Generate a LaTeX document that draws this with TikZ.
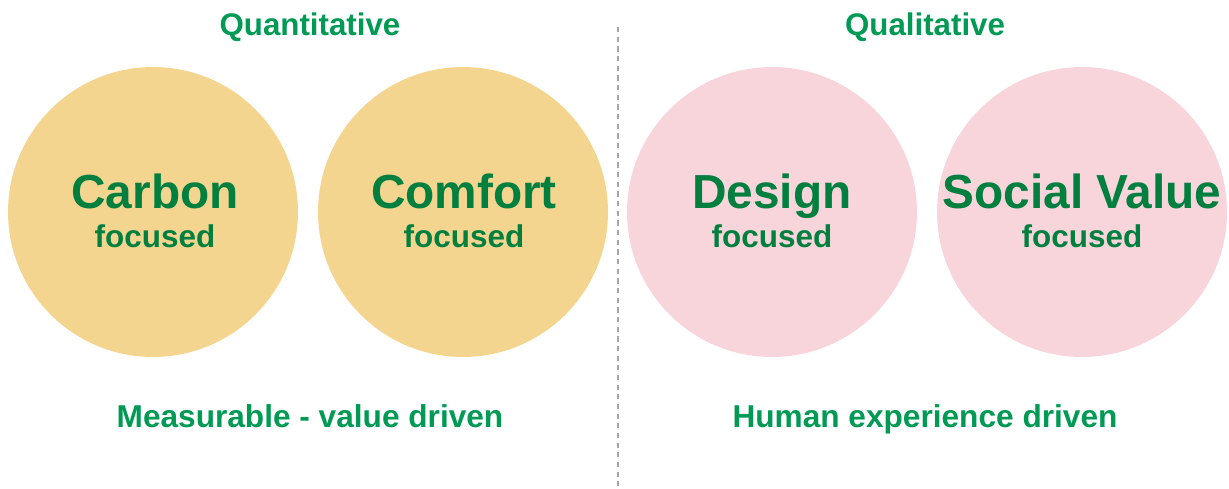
\documentclass[tikz,border=0pt]{standalone}
\usepackage{fontspec}
\setmainfont{Liberation Sans}
\usepackage{tikz}

\definecolor{headgreen}{HTML}{009A55}
\definecolor{wordgreen}{HTML}{007F3F}
\definecolor{sand}{HTML}{F3D58F}
\definecolor{blush}{HTML}{F7D5DB}

\begin{document}
\begin{tikzpicture}[x=0.02cm, y=0.02cm]
        \tikzset{
            disc/.style={circle, minimum size=5.8cm, inner sep=0pt, draw=none},
            heading/.style={anchor=base, text=headgreen, font=\fontsize{17.8}{21}\selectfont\bfseries},
            footing/.style={anchor=base, text=headgreen, font=\fontsize{18}{21}\selectfont\bfseries},
            bigword/.style={anchor=base, text=wordgreen, font=\fontsize{27.2}{32}\selectfont\bfseries},
            smallword/.style={anchor=base, text=wordgreen, font=\fontsize{17.9}{21}\selectfont\bfseries}
        }
        \useasboundingbox (0,0) rectangle (1229,488);

        % Divider
        \coordinate (divtop) at (618,461);
        \coordinate (divbot) at (618,0);
        \draw[gray!70, line width=0.8pt, dash pattern=on 3pt off 2.5pt] (divtop) -- (divbot);

        % Left half - quantitative
        \node[heading] (quant) at (310,453) {Quantitative};
        \node[disc, fill=sand] (carbon) at (153,276) {};
        \node[bigword] (carbonword) at (155,280) {Carbon};
        \node[smallword] (carbonsub) at (155,241) {focused};
        \node[disc, fill=sand] (comfort) at (463,276) {};
        \node[bigword] (comfortword) at (464,280) {Comfort};
        \node[smallword] (comfortsub) at (464,241) {focused};
        \node[footing] (measure) at (310,61) {Measurable - value driven};

        % Right half - qualitative
        \node[heading] (qual) at (925,453) {Qualitative};
        \node[disc, fill=blush] (design) at (772,276) {};
        \node[bigword] (designword) at (772,280) {Design};
        \node[smallword] (designsub) at (772,241) {focused};
        \node[disc, fill=blush] (social) at (1082,276) {};
        \node[bigword] (socialword) at (1082,280) {Social Value};
        \node[smallword] (socialsub) at (1082,241) {focused};
        \node[footing] (human) at (925,61) {Human experience driven};
\end{tikzpicture}
\end{document}
